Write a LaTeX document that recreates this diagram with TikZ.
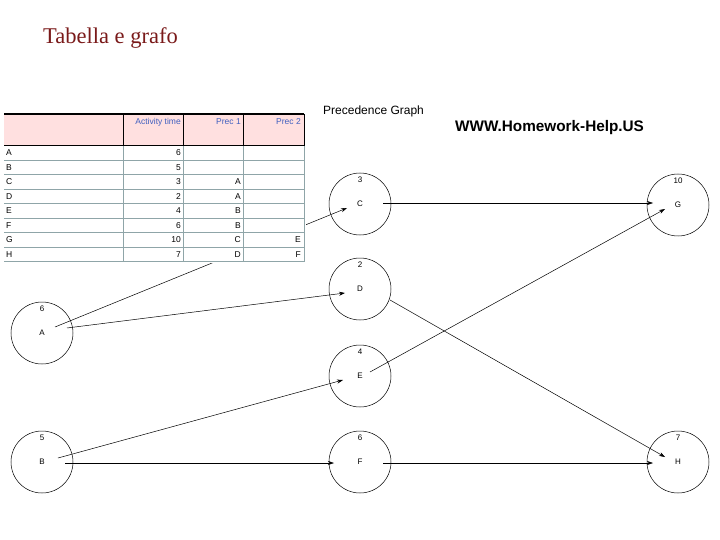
\documentclass[tikz,border=0pt]{standalone}
\usepackage{fontspec}
\setmainfont{Liberation Serif}
\setsansfont{Liberation Sans}
\usetikzlibrary{arrows.meta}
\definecolor{titlered}{HTML}{7A1A1A}
\definecolor{hdrpink}{HTML}{FFE0E0}
\definecolor{gridc}{HTML}{8FA5A8}
\definecolor{hdrblue}{HTML}{4060C0}
\begin{document}
\begin{tikzpicture}[x=1pt,y=-1pt,
  actnode/.style={circle,draw=black,line width=0.5pt,minimum size=62pt,inner sep=0pt,font=\sffamily\fontsize{8}{9}\selectfont},
  durlabel/.style={font=\sffamily\fontsize{8}{9}\selectfont,inner sep=0pt},
  tcell/.style={font=\sffamily\fontsize{8.5}{10}\selectfont,inner sep=0pt},
  hcell/.style={font=\sffamily\fontsize{8.5}{10}\selectfont,inner sep=0pt,text=hdrblue},
  edge/.style={line width=0.5pt,-{Stealth[length=6pt,width=4pt]}}]
\useasboundingbox (0,0) rectangle (720,540);
% title
\node[anchor=west,inner sep=0pt,text=titlered,font=\fontsize{22.5}{26}\selectfont] (title) at (43,38) {Tabella e grafo};
% headings
\node[anchor=west,inner sep=0pt,font=\sffamily\fontsize{12}{14}\selectfont] (pg) at (323,111) {Precedence Graph};
\node[anchor=west,inner sep=0pt,font=\sffamily\bfseries\fontsize{15.3}{17}\selectfont] (www) at (455,128) {WWW.Homework-Help.US};
% nodes
\node[actnode] (A) at (42,333) {A};
\node[actnode] (B) at (42,462) {B};
\node[actnode] (C) at (360,204) {C};
\node[actnode] (D) at (360,289) {D};
\node[actnode] (E) at (360,376) {E};
\node[actnode] (F) at (360,462) {F};
\node[actnode] (G) at (678,205) {G};
\node[actnode] (H) at (678,462) {H};
\foreach \n/\d in {A/6,B/5,C/3,D/2,E/4,F/6,G/10,H/7}
  \node[durlabel] (\n dur) at ([yshift=24pt]\n.center) {\d};
% connector end points
\coordinate (AoutC) at ([shift={(13,-6)}]A.center);
\coordinate (AoutD) at ([shift={(25,-5)}]A.center);
\coordinate (CinA) at ([shift={(-13,4)}]C.center);
\coordinate (DinA) at ([shift={(-15,4)}]D.center);
\coordinate (BoutE) at ([shift={(16,-4)}]B.center);
\coordinate (BoutF) at ([shift={(23,1)}]B.center);
\coordinate (EinB) at ([shift={(-17,4)}]E.center);
\coordinate (FinB) at ([shift={(-26,1)}]F.center);
\coordinate (CoutG) at ([shift={(23,-1)}]C.center);
\coordinate (GinC) at ([shift={(-25,-2)}]G.center);
\coordinate (EoutG) at ([shift={(10,-4)}]E.center);
\coordinate (GinE) at ([shift={(-13,4)}]G.center);
\coordinate (DoutH) at ([shift={(30,11)}]D.center);
\coordinate (HinD) at ([shift={(-13,-5)}]H.center);
\coordinate (FoutH) at ([shift={(23,1)}]F.center);
\coordinate (HinF) at ([shift={(-25,1)}]H.center);
\draw[edge] (AoutC) -- (CinA);
\draw[edge] (AoutD) -- (DinA);
\draw[edge] (BoutE) -- (EinB);
\draw[edge] (BoutF) -- (FinB);
\draw[edge] (CoutG) -- (GinC);
\draw[edge] (EoutG) -- (GinE);
\draw[edge] (DoutH) -- (HinD);
\draw[edge] (FoutH) -- (HinF);
% table (drawn over the A->C connector)
\fill[white] (2,112) rectangle (306,263);
\fill[hdrpink] (4,114) rectangle (304,146);
\foreach \yy in {160,174.5,189,203.5,218,232.5,247,261.5}
  \draw[gridc,line width=0.6pt] (4,\yy) -- (304,\yy);
\foreach \xx in {123,183,243,304}
  \draw[gridc,line width=0.6pt] (\xx,146) -- (\xx,261.5);
\draw[black,line width=1.2pt] (4,114) -- (304,114);
\draw[black,line width=1pt] (4,146) -- (304,146);
\foreach \xx in {123,183,243,304}
  \draw[black,line width=0.8pt] (\xx,114) -- (\xx,146);
\node[hcell,anchor=east] (h1) at (181,122) {Activity time};
\node[hcell,anchor=east] (h2) at (241,122) {Prec 1};
\node[hcell,anchor=east] (h3) at (301,122) {Prec 2};
\foreach \lab/\t/\pa/\pb [count=\i from 0] in {A/6//,B/5//,C/3/A/,D/2/A/,E/4/B/,F/6/B/,G/10/C/E,H/7/D/F}{
  \pgfmathsetmacro{\yc}{153+14.5*\i}
  \node[tcell,anchor=west] (r\i a) at (6,\yc) {\lab};
  \node[tcell,anchor=east] (r\i b) at (181,\yc) {\t};
  \node[tcell,anchor=east] (r\i c) at (241,\yc) {\pa};
  \node[tcell,anchor=east] (r\i d) at (301,\yc) {\pb};
}
\end{tikzpicture}
\end{document}
